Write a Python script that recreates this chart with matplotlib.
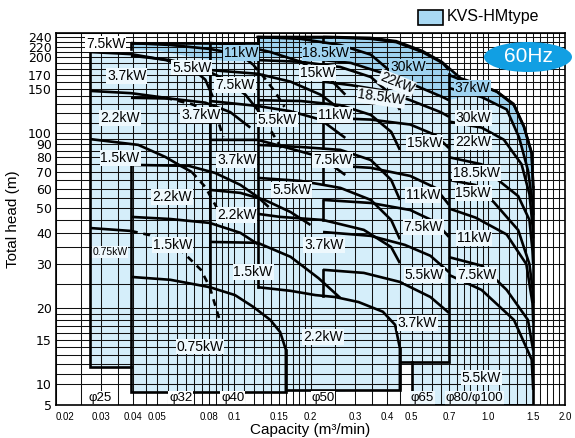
import numpy as np
import matplotlib
matplotlib.use("Agg")
import matplotlib.pyplot as plt
from matplotlib.patches import Ellipse, Rectangle

# ---- axis ticks and grid ----
x_ticks = [0.02, 0.03, 0.04, 0.05, 0.08, 0.1, 0.15, 0.2, 0.3, 0.4, 0.5, 0.7, 1.0, 1.5, 2.0]
x_tick_labels = ["0.02", "0.03", "0.04", "0.05", "0.08", "0.1", "0.15", "0.2", "0.3",
                 "0.4", "0.5", "0.7", "1.0", "1.5", "2.0"]
y_ticks = [5, 10, 15, 20, 30, 40, 50, 60, 70, 80, 90, 100, 150, 170, 200, 220, 240]

x_grid = list(np.arange(0.02, 0.0999, 0.005)) + list(np.arange(0.1, 0.1999, 0.01)) + \
         list(np.arange(0.2, 0.9999, 0.05)) + list(np.arange(1.0, 2.001, 0.1))
y_grid = list(range(10, 20)) + list(range(20, 100, 5)) + list(range(100, 251, 10))

# ---- performance curves: (motor, capacity m3/min, head m, number of solid points) ----
PHI25 = [
    ("3.7kW", [0.0272, 0.0394, 0.054, 0.0677, 0.0772, 0.0827], [210, 206, 195, 182, 163, 139], 6),
    ("2.2kW", [0.0272, 0.0394, 0.0538, 0.0677, 0.079, 0.0859, 0.0908], [147, 144, 138, 130.5, 123.5, 115, 96.4], 3),
    ("1.5kW", [0.0272, 0.0421, 0.0538, 0.0618, 0.0683, 0.0772, 0.0867], [94.5, 89.6, 80.2, 73.9, 69.9, 60.9, 49.3], 5),
    ("0.75kW", [0.0272, 0.0394, 0.0465, 0.0618, 0.0742, 0.0804, 0.0883], [41.8, 40.7, 39.2, 34.2, 28.5, 24.3, 17.7], 2),
]
PHI32 = [
    ("7.5kW", [0.0394, 0.0563, 0.0804, 0.106, 0.119, 0.131, 0.145, 0.158], [228, 224, 216, 205, 187, 167, 146, 127], 5),
    ("5.5kW", [0.0394, 0.0563, 0.0742, 0.0925, 0.111, 0.124, 0.139, 0.158], [203, 195, 182, 163, 142, 123.5, 103, 83.2], 6),
    ("3.7kW", [0.0394, 0.0563, 0.0772, 0.0968, 0.116], [138, 137, 132, 121, 105], 5),
    ("2.2kW", [0.0394, 0.0665, 0.0843, 0.106, 0.124, 0.137], [74.6, 73.9, 69.3, 62.1, 55.6, 50.7], 6),
    ("1.5kW", [0.0394, 0.0563, 0.0804, 0.106, 0.124], [46.3, 45.4, 43.8, 40.0, 36.1], 5),
    ("0.75kW", [0.0394, 0.0563, 0.0804, 0.101, 0.119, 0.139, 0.152, 0.16, 0.16],
     [26.7, 26.0, 24.3, 22.6, 20.3, 18.0, 16.1, 13.7, 8.1], 9),
]
PHI40 = [
    ("11kW", [0.0804, 0.106, 0.139, 0.183, 0.24, 0.274], [228, 224, 210, 192, 163, 142], 6),
    ("7.5kW", [0.0804, 0.124, 0.167, 0.219, 0.262], [178, 172, 160, 142, 124], 5),
    ("5.5kW", [0.0804, 0.124, 0.167, 0.219, 0.274], [134, 128, 122, 113, 95.5], 5),
    ("3.7kW", [0.0804, 0.124, 0.158, 0.219, 0.274], [93.8, 93.8, 87.9, 80.2, 68.0], 5),
    ("2.2kW", [0.0804, 0.106, 0.132, 0.167, 0.2], [59.3, 57.7, 54.1, 48.4, 43.0], 5),
    ("1.5kW", [0.0804, 0.124, 0.167, 0.215, 0.262], [36.8, 36.5, 32.1, 26.4, 22.0], 5),
]
PHI50_Q = [0.124, 0.183, 0.262, 0.345, 0.415, 0.449]
PHI50 = [
    ("18.5kW", PHI50_Q, [241, 237, 224, 205, 175, 155], 6),
    ("15kW", PHI50_Q, [195, 192, 183, 167, 142, 123.5], 6),
    ("11kW", PHI50_Q, [135, 134, 129, 118, 101, 85.6], 6),
    ("7.5kW", PHI50_Q, [89.6, 87.9, 85.6, 78.0, 65.0, 54.1], 6),
    ("5.5kW", PHI50_Q, [66.2, 64.4, 60.4, 54.1, 45.0, 37.7], 6),
    ("3.7kW", [0.124, 0.152, 0.224, 0.324, 0.415, 0.449], [47.6, 46.3, 45.0, 41.1, 35.1, 30.3], 6),
    ("2.2kW", [0.124, 0.167, 0.209, 0.25, 0.309, 0.385, 0.43, 0.449, 0.449],
     [24.3, 23.5, 22.6, 22.2, 21.2, 19.4, 17.2, 13.9, 8.57], 9),
]
PHI65 = [
    ("30kW", [0.224, 0.345, 0.434, 0.55, 0.66, 0.7], [241, 237, 230, 210, 190, 178], 6),
    ("22kW", [0.224, 0.288, 0.385, 0.434, 0.52, 0.66, 0.7], [195, 190, 173, 164, 154, 139, 135], 7),
    ("18.5kW", [0.224, 0.288, 0.379, 0.493, 0.649, 0.7], [160, 155, 148, 135, 121, 116], 6),
    ("15kW", [0.224, 0.345, 0.493, 0.62, 0.7], [115, 113, 108, 98, 87], 5),
    ("11kW", [0.224, 0.345, 0.493, 0.62, 0.7], [74.6, 72.6, 67.4, 60.4, 51.7], 5),
    ("7.5kW", [0.224, 0.345, 0.493, 0.62, 0.7], [54.1, 52.6, 49.3, 44.2, 38.5], 5),
    ("5.5kW", [0.224, 0.345, 0.47, 0.592, 0.7], [40.3, 38.9, 35.8, 32.4, 27.9], 5),
    ("3.7kW", [0.224, 0.324, 0.449, 0.592, 0.7], [28.5, 27.7, 25.5, 22.2, 19.2], 5),
]
PHI80 = [
    ("37kW", [0.7, 0.78, 0.94, 1.08, 1.26, 1.38, 1.48, 1.5], [170, 163, 154, 146, 129, 106, 83, 61], 8),
    ("30kW", [0.7, 0.94, 1.18, 1.32, 1.43, 1.49, 1.5], [151, 139, 124, 96, 71, 53, 47], 7),
    ("22kW", [0.7, 0.94, 1.15, 1.35, 1.45, 1.49, 1.5], [111, 105, 94, 75, 57, 43, 38], 7),
    ("18.5kW", [0.7, 0.94, 1.07, 1.31, 1.45, 1.49, 1.5], [80, 75, 66, 56, 45, 34, 30], 7),
    ("15kW", [0.7, 0.89, 1.05, 1.31, 1.45, 1.49, 1.5], [65, 62, 53, 41, 30, 24, 21], 7),
    ("11kW", [0.7, 0.89, 1.18, 1.41, 1.49, 1.5], [50, 46, 39.4, 30, 21, 17.6], 6),
    ("7.5kW", [0.7, 0.94, 1.18, 1.43, 1.5], [32, 29.6, 23.7, 18, 13.6], 5),
    ("5.5kW", [0.7, 0.94, 1.26, 1.48, 1.5], [27.2, 23.7, 18, 12.5, 8.6], 5),
]
# short vertical steps where the phi65 curves begin
PHI65_STEP_Q = 0.224
PHI65_STEP_TOP = [241, 195, 160, 115, 74.6, 54.1, 28.5]
PHI65_STEP_BOTTOM = [230, 188, 132, 87, 63, 45, 22.4]

# ---- range outlines (capacity, head) ----
OUTLINES = [
    ([0.0394, 0.0272, 0.0272], [11.7, 11.7, 210]),
    ([0.0394, 0.0394, 0.16, 0.16], [74.6, 8.1, 8.1, 13.7]),
    ([0.0394, 0.0394, 0.124, 0.124, 0.24], [216, 228, 228, 241, 241]),
    ([0.0804, 0.0804], [24.3, 228]),
    ([0.124, 0.124], [24.3, 241]),
    ([0.16, 0.449, 0.449], [8.57, 8.57, 13.9]),
    ([0.449, 0.7, 0.7], [12.2, 12.2, 172]),
    ([0.5, 0.5, 1.5, 1.5], [12.2, 5, 5, 61]),
]

# ---- HM type band along the top ----
DARK_OUTER_Q = [0.0394, 0.124, 0.124, 0.24, 0.345, 0.434, 0.55, 0.655, 0.779, 0.936, 1.08, 1.256, 1.38, 1.479, 1.5]
DARK_OUTER_H = [228, 228, 241, 241, 239, 232, 212, 192, 165, 155, 146, 130.5, 105.7, 83.2, 60.9]
DARK_INNER_Q = [1.5, 1.49, 1.43, 1.32, 1.18, 0.87, 0.7, 0.66, 0.52, 0.434, 0.385, 0.288, 0.209, 0.124,
                0.124, 0.0804, 0.0646, 0.0514, 0.0394]
DARK_INNER_H = [47, 52.6, 71.2, 96.4, 123.5, 141.7, 135.4, 139, 152.5, 162.7, 173.4, 190.1, 199, 199,
                191.8, 195.4, 202.7, 212, 216]

# ---- motor labels (text, capacity, head, rotation, background) ----
LABELS = [
    ("7.5kW", 0.0314, 226, 0, "white"), ("3.7kW", 0.038, 169, 0, "l"), ("2.2kW", 0.0357, 115, 0, "l"),
    ("1.5kW", 0.0357, 79.5, 0, "l"), ("5.5kW", 0.0684, 182, 0, "l"), ("3.7kW", 0.0742, 118, 0, "l"),
    ("2.2kW", 0.0571, 55.6, 0, "l"), ("1.5kW", 0.0576, 35.8, 0, "l"), ("0.75kW", 0.0736, 14.1, 0, "l"),
    ("11kW", 0.1066, 208, 0, "d"), ("7.5kW", 0.101, 155, 0, "l"), ("5.5kW", 0.148, 113, 0, "l"),
    ("3.7kW", 0.1025, 78, 0, "l"), ("2.2kW", 0.1025, 47.1, 0, "l"), ("1.5kW", 0.119, 27.9, 0, "l"),
    ("18.5kW", 0.23, 208, 0, "d"), ("15kW", 0.213, 173, 0, "l"), ("11kW", 0.25, 118, 0, "l"),
    ("7.5kW", 0.245, 78, 0, "l"), ("5.5kW", 0.169, 59.3, 0, "l"), ("3.7kW", 0.226, 35.8, 0, "l"),
    ("2.2kW", 0.224, 15.4, 0, "l"),
    ("30kW", 0.482, 183, 0, "d"), ("22kW", 0.437, 158, -22, "l"), ("18.5kW", 0.379, 138, -8, "l"),
    ("15kW", 0.56, 91, 0, "l"), ("11kW", 0.555, 56.6, 0, "l"), ("7.5kW", 0.555, 42.2, 0, "l"),
    ("5.5kW", 0.56, 27.2, 0, "l"), ("3.7kW", 0.527, 17.5, 0, "l"),
    ("37kW", 0.864, 151, 0, "d"), ("30kW", 0.872, 114.8, 0, "l"), ("22kW", 0.872, 92.2, 0, "l"),
    ("18.5kW", 0.9, 69.3, 0, "l"), ("15kW", 0.872, 57.7, 0, "l"), ("11kW", 0.88, 38.2, 0, "l"),
    ("7.5kW", 0.9, 27.2, 0, "l"), ("5.5kW", 0.94, 10.6, 0, "l"),
]
SMALL_LABELS = [("0.75kW", 0.0326, 33.6)]
PIPE_LABELS = [("φ25", 0.0297, 6.67), ("φ32", 0.0618, 6.67), ("φ40", 0.099, 6.67), ("φ50", 0.224, 6.67),
               ("φ65", 0.55, 6.67), ("φ80/φ100", 0.88, 6.67)]

LIGHT = "#d5eefa"
DARK = "#9fd3f0"
LABEL_BG = "#eef8fd"
BG = {"l": LABEL_BG, "d": DARK, "white": "white"}
S = 21.0 / 251.0   # height of the 5-10 m segment, in decades


def fwd(y):
    y = np.asarray(y, dtype=float)
    return np.where(y >= 10, np.log10(np.clip(y, 1e-9, None)), 1.0 - (10.0 - y) / 5.0 * S)


def inv(t):
    t = np.asarray(t, dtype=float)
    return np.where(t >= 1.0, 10.0 ** np.minimum(t, 10), 10.0 - (1.0 - t) / S * 5.0)


fig = plt.figure(figsize=(5.75, 4.38), dpi=100)
ax = fig.add_axes([56 / 575, 33 / 438, 509 / 575, 372 / 438])
ax.set_xscale("log")
ax.set_yscale("function", functions=(fwd, inv))
ax.set_xlim(0.02, 2.0)
ax.set_ylim(5, 250)

# light shading: area under the top curve of each pipe size
for group, bottom, q_end in ((PHI25, 11.7, 0.0394), (PHI40, 8.1, 0.274),
                             (PHI50, 8.57, 0.449), (PHI65, 12.2, 0.7)):
    lab, q, h, n = group[0]
    ax.fill([q[0]] + list(q) + [q_end, q[0]], [bottom] + list(h) + [bottom, bottom],
            color=LIGHT, lw=0, zorder=1)
lab, q, h, n = PHI32[0]
ax.fill([q[0]] + list(q) + [0.16, 0.16], [8.1] + list(h) + [13.7, 8.1], color=LIGHT, lw=0, zorder=1)
lab, q, h, n = PHI80[0]
ax.fill([0.5, 0.5, 0.7] + list(q) + [1.5], [5, 12.2, 12.2] + list(h) + [5], color=LIGHT, lw=0, zorder=1)

# HM type band
ax.fill(DARK_OUTER_Q + DARK_INNER_Q, DARK_OUTER_H + DARK_INNER_H, color=DARK, lw=0, zorder=1.5)

# grid
for g in x_grid:
    ax.axvline(g, color="#111111", lw=0.75, zorder=2)
for g in y_grid:
    ax.axhline(g, color="#111111", lw=0.75, zorder=2)

# curves
for group in (PHI25, PHI32, PHI40, PHI50, PHI65, PHI80):
    for lab, q, h, n in group:
        ax.plot(q[:n], h[:n], color="black", lw=1.9, zorder=4, solid_capstyle="butt", solid_joinstyle="round")
        if n < len(q):
            ax.plot(q[n - 1:], h[n - 1:], color="black", lw=1.9, ls=(0, (2.6, 2.2)), zorder=4)
for top, bot in zip(PHI65_STEP_TOP, PHI65_STEP_BOTTOM):
    ax.plot([PHI65_STEP_Q, PHI65_STEP_Q], [bot, top], color="black", lw=1.9, zorder=4)

# range outlines
for q, h in OUTLINES:
    ax.plot(q, h, color="black", lw=1.9, zorder=4, solid_joinstyle="miter")
ax.plot(DARK_OUTER_Q[2:], DARK_OUTER_H[2:], color="black", lw=1.9, zorder=4)

for t, q, h, rot, bg in LABELS:
    ax.text(q, h, t, fontsize=10, family="Liberation Sans", ha="center", va="center", rotation=rot,
            rotation_mode="anchor", bbox=dict(boxstyle="square,pad=0.06", fc=BG[bg], ec="none"), zorder=6)
for t, q, h in SMALL_LABELS:
    ax.text(q, h, t, fontsize=7.5, family="Liberation Sans", ha="center", va="center",
            bbox=dict(boxstyle="square,pad=0.08", fc=LABEL_BG, ec="none"), zorder=6)
for t, q, h in PIPE_LABELS:
    ax.text(q, h, t, fontsize=9.5, family="Liberation Sans", ha="center", va="center",
            bbox=dict(boxstyle="square,pad=0.05", fc="white" if q < 0.5 else LABEL_BG, ec="none"), zorder=6)

ax.set_xticks(x_ticks)
ax.set_xticklabels(x_tick_labels, fontsize=7, family="Liberation Sans")
ax.get_xticklabels()[0].set_horizontalalignment("left")
ax.xaxis.set_minor_locator(matplotlib.ticker.NullLocator())
ax.set_yticks(y_ticks)
ax.set_yticklabels([str(v) for v in y_ticks], fontsize=9, family="DejaVu Sans")
ax.yaxis.set_minor_locator(matplotlib.ticker.NullLocator())
ax.tick_params(axis="x", length=0, pad=5)
ax.tick_params(axis="y", length=0, pad=3)
for sp in ax.spines.values():
    sp.set_linewidth(1.2)
    sp.set_zorder(7)
ax.set_xlabel("Capacity (m³/min)", fontsize=11, family="Liberation Sans", labelpad=1)
ax.set_ylabel("Total head (m)", fontsize=11, family="Liberation Sans", labelpad=6)

# legend swatch and frequency badge
fig.patches.append(Rectangle((418 / 575, 1 - 25 / 438), 25 / 575, 15 / 438, transform=fig.transFigure,
                             fc="#a9d9f3", ec="black", lw=1.2))
fig.text(447 / 575, 1 - 17 / 438, "KVS-HMtype", fontsize=11.5, family="Liberation Sans", va="center")
fig.patches.append(Ellipse((528 / 575, 1 - 57 / 438), 88 / 575, 30 / 438, transform=fig.transFigure,
                           fc="#119fe3", ec="none", zorder=10))
fig.text(528 / 575, 1 - 57 / 438, "60Hz", fontsize=15, color="white", family="Liberation Sans",
         ha="center", va="center", zorder=11)

fig.savefig("out.png", dpi=100)
